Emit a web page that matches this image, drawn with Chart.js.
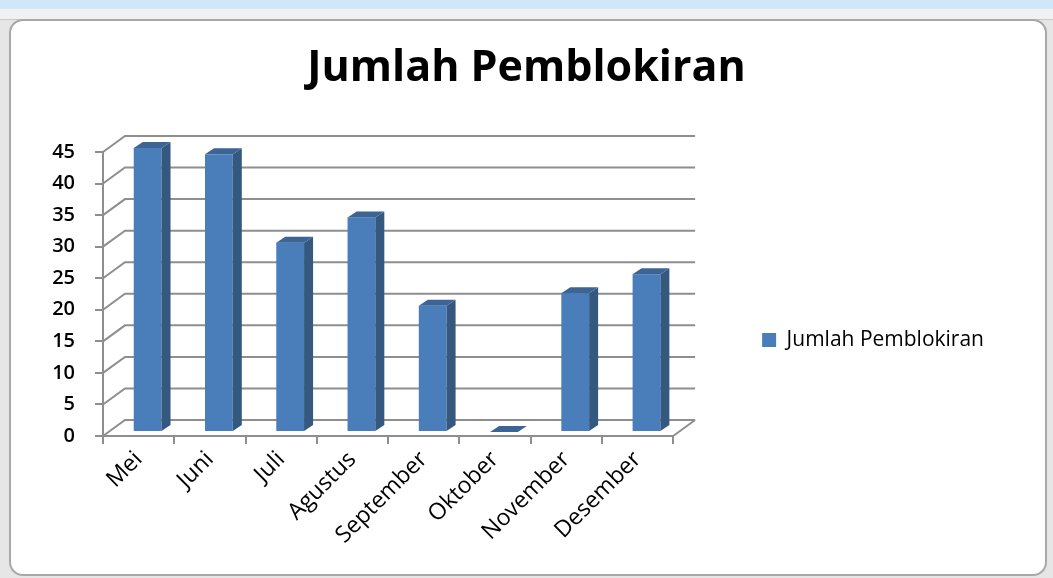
<!DOCTYPE html>
<html>
<head>
<meta charset="utf-8">
<script src="https://cdn.jsdelivr.net/npm/chart.js@4.4.1/dist/chart.umd.min.js"></script>
<style>
  html, body { margin: 0; padding: 0; width: 1053px; height: 578px; overflow: hidden; background: #e6e6e6; }
  #sky { position: absolute; left: 0; top: 0; width: 1053px; height: 9px; background: #cfe7f8; }
  #hdr { position: absolute; left: 0; top: 9px; width: 1053px; height: 10px; background: #f1f1f1; border-bottom: 1px solid #c9c9c9; }
  #frame { position: absolute; left: 9px; top: 19px; width: 1034px; height: 553px; background: #fff; border: 2px solid #a8a8a8; border-radius: 14px; }
  #wrap { position: absolute; left: 0; top: 0; width: 1053px; height: 578px; }
</style>
</head>
<body>
<div id="sky"></div>
<div id="hdr"></div>
<div id="frame"></div>
<div id="wrap"><canvas id="chart" width="1053" height="578"></canvas></div>
<script>
// data
const bulan = ['Mei', 'Juni', 'Juli', 'Agustus', 'September', 'Oktober', 'November', 'Desember'];
const jumlah = [45, 44, 30, 34, 20, 0, 22, 25];
const seriesLabel = 'Jumlah Pemblokiran';
const chartTitle = 'Jumlah Pemblokiran';
const yMax = 45;
const yStep = 5;

const FONT = "'Open Sans', sans-serif";
const GRID = '#8e8e8e';

// 3d look: back wall offset, bar offset (mid depth), bar depth
const DX = 22, DY = 16;
const BX = 9, BY = 4;
const SX = 9, SY = 6;

// plot ends at x=673, legend item starts at x=762
const plotLeft = 103;
const plotRight = 673;
const legendGap = 89;
const legendFont = 21;
const mctx = document.createElement('canvas').getContext('2d');
mctx.font = legendFont + 'px ' + FONT;
const legendW = legendGap + 14 + legendFont / 2 + mctx.measureText(seriesLabel).width + 10;
// empty space right of the legend, taken by a blank outer axis
const spacerW = Math.max(0, Math.round(1053 - plotRight - legendW));

const threeD = {
    id: 'threeD',
    beforeDatasetsDraw(chart) {
        const { ctx, chartArea: a, scales: { y } } = chart;
        ctx.save();
        // side wall + back wall gridlines
        ctx.strokeStyle = GRID;
        ctx.lineWidth = 2;
        ctx.beginPath();
        y.ticks.forEach(t => {
            const py = y.getPixelForValue(t.value);
            ctx.moveTo(a.left, py);
            ctx.lineTo(a.left + DX, py - DY);
            ctx.lineTo(a.right + DX, py - DY);
        });
        ctx.moveTo(a.right, a.bottom);
        ctx.lineTo(a.right + DX, a.bottom - DY);
        ctx.stroke();

        // columns
        const meta = chart.getDatasetMeta(0);
        meta.data.forEach(bar => {
            const { x, y: top, base, width } = bar.getProps(['x', 'y', 'base', 'width'], true);
            const l = x - width / 2 + BX, r = x + width / 2 + BX;
            const t = top - BY, b = base - BY;

            ctx.fillStyle = '#4a7ebb';
            ctx.fillRect(l, t, r - l, b - t);

            ctx.fillStyle = '#35587f';
            ctx.beginPath();
            ctx.moveTo(r, t); ctx.lineTo(r + SX, t - SY); ctx.lineTo(r + SX, b - SY); ctx.lineTo(r, b);
            ctx.closePath();
            ctx.fill();

            ctx.fillStyle = '#3c6494';
            ctx.beginPath();
            ctx.moveTo(l, t); ctx.lineTo(r, t); ctx.lineTo(r + SX, t - SY); ctx.lineTo(l + SX, t - SY);
            ctx.closePath();
            ctx.fill();
        });
        ctx.restore();
        return false;
    }
};

new Chart(document.getElementById('chart'), {
    type: 'bar',
    data: {
        labels: bulan,
        datasets: [{
            label: seriesLabel,
            data: jumlah,
            backgroundColor: '#4a7ebb',
            borderWidth: 0,
            barPercentage: 0.39,
            categoryPercentage: 1,
            yAxisID: 'y'
        }]
    },
    options: {
        responsive: false,
        animation: false,
        layout: { padding: 0 },
        plugins: {
            title: {
                display: true,
                text: chartTitle,
                color: '#000',
                font: { family: FONT, size: 43, weight: 'bold', lineHeight: 1.2 },
                padding: { top: 43, bottom: 57.4 }
            },
            legend: {
                position: 'right',
                maxWidth: 1053,
                title: { display: true, text: ' ', font: { size: 10, lineHeight: 1.2 }, padding: { top: 90, bottom: 0 } },
                labels: {
                    boxWidth: 14,
                    boxHeight: 14,
                    padding: legendGap,
                    color: '#000',
                    font: { family: FONT, size: legendFont }
                }
            },
            tooltip: { enabled: false }
        },
        scales: {
            x: {
                offset: true,
                grid: { display: true, drawOnChartArea: false, offset: true, tickLength: 8, color: GRID, lineWidth: 2 },
                border: { display: true, color: GRID, width: 2 },
                ticks: { minRotation: 45, maxRotation: 45, color: '#000', padding: 2, font: { family: FONT, size: 23 } },
                afterFit(s) { s.height = 142; }
            },
            y: {
                min: 0,
                max: yMax,
                grid: { display: true, drawOnChartArea: false, tickLength: 8, color: GRID, lineWidth: 2 },
                border: { display: true, color: GRID, width: 2 },
                ticks: { stepSize: yStep, color: '#000', padding: 20, font: { family: FONT, size: 20, weight: '600' } },
                afterFit(s) { s.width = plotLeft; }
            },
            spacer: {
                type: 'linear',
                position: 'right',
                weight: 2000,
                grid: { display: false },
                border: { display: false },
                ticks: { display: false },
                afterFit(s) { s.width = spacerW; }
            }
        }
    },
    plugins: [threeD]
});
</script>
</body>
</html>
